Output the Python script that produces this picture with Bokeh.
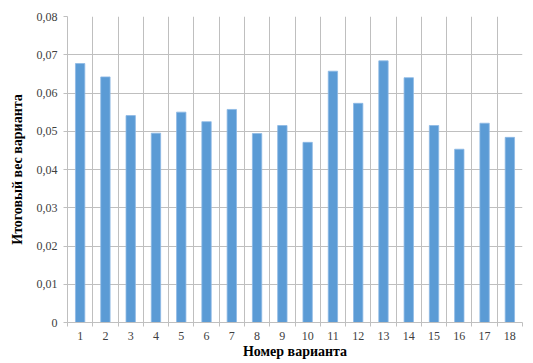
from bokeh.plotting import figure
from bokeh.models import FixedTicker, CustomJSTickFormatter, Range1d
from bokeh.embed import file_html
from bokeh.resources import INLINE

# Итоговый вес каждого варианта
variants = [str(i) for i in range(1, 19)]
weights = [0.0677, 0.0642, 0.0541, 0.0495, 0.0550, 0.0525, 0.0557, 0.0494, 0.0515,
           0.0471, 0.0657, 0.0573, 0.0684, 0.0640, 0.0515, 0.0453, 0.0521, 0.0484]
y_ticks = [0, 0.01, 0.02, 0.03, 0.04, 0.05, 0.06, 0.07, 0.08]

xs = list(range(1, len(variants) + 1))
bounds = [i + 0.5 for i in range(0, len(variants) + 1)]

p = figure(width=533, height=363, output_backend="svg", toolbar_location=None,
           x_range=Range1d(0.5, len(variants) + 0.5), y_range=Range1d(0, 0.08),
           min_border_left=67, min_border_right=11, min_border_top=16, min_border_bottom=41)
p.outline_line_color = None
p.background_fill_color = "white"
p.border_fill_color = "white"

p.vbar(x=xs, top=weights, width=0.37, fill_color="#5B9BD5", line_color="#8DB9E4", line_width=0.8)

grid_color = "#BFBFBF"
p.xgrid.ticker = FixedTicker(ticks=bounds)
p.xgrid.grid_line_color = grid_color
p.ygrid.ticker = FixedTicker(ticks=y_ticks)
p.ygrid.grid_line_color = grid_color

serif = "Liberation Serif"

xa = p.xaxis[0]
xa.ticker = FixedTicker(ticks=xs, minor_ticks=bounds)
xa.major_label_overrides = {x: v for x, v in zip(xs, variants)}
xa.major_tick_line_color = None
xa.major_tick_out = 0
xa.major_tick_in = 0
xa.minor_tick_line_color = grid_color
xa.minor_tick_out = 4
xa.minor_tick_in = 0
xa.axis_line_color = grid_color
xa.major_label_text_font = serif
xa.major_label_text_font_size = "12px"
xa.major_label_text_color = "#404040"
xa.major_label_standoff = 5
xa.axis_label = "Номер варианта"
xa.axis_label_text_font = serif
xa.axis_label_text_font_style = "bold"
xa.axis_label_text_font_size = "14px"
xa.axis_label_text_color = "#000000"
xa.axis_label_standoff = 1

ya = p.yaxis[0]
ya.ticker = FixedTicker(ticks=y_ticks)
ya.formatter = CustomJSTickFormatter(code="return tick == 0 ? '0' : tick.toFixed(2).replace('.', ',');")
ya.major_tick_line_color = grid_color
ya.major_tick_out = 4
ya.major_tick_in = 0
ya.minor_tick_line_color = None
ya.axis_line_color = grid_color
ya.major_label_text_font = serif
ya.major_label_text_font_size = "12px"
ya.major_label_text_color = "#404040"
ya.major_label_standoff = 6
ya.axis_label = "Итоговый вес варианта"
ya.axis_label_text_font = serif
ya.axis_label_text_font_style = "bold"
ya.axis_label_text_font_size = "14px"
ya.axis_label_text_color = "#000000"
ya.axis_label_standoff = 9

open("out.html", "w").write(file_html(p, INLINE))
